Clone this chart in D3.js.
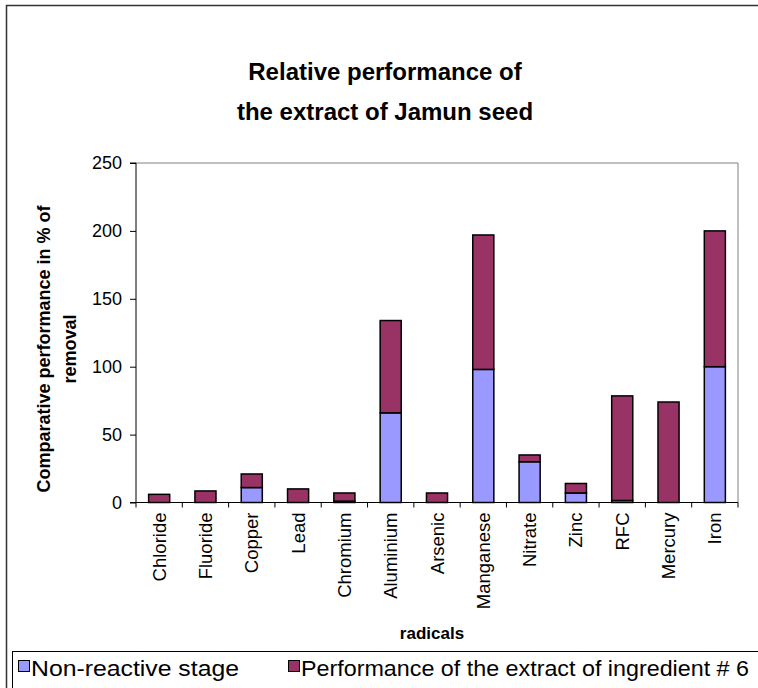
<!DOCTYPE html>
<html>
<head>
<meta charset="utf-8">
<script src="https://cdn.jsdelivr.net/npm/d3@7"></script>
<style>
  html, body { margin: 0; padding: 0; background: #fff; }
  svg { display: block; font-family: "Liberation Sans", Arial, sans-serif; }
</style>
</head>
<body>
<svg id="chart" width="758" height="688"></svg>
<script>
const categories = ["Chloride","Fluoride","Copper","Lead","Chromium","Aluminium","Arsenic","Manganese","Nitrate","Zinc","RFC","Mercury","Iron"];
const nonReactive = [0, 0, 11, 0, 1, 66, 0, 98, 30, 7, 1.5, 0, 100];
const extractPerf = [6, 8.5, 10, 10, 6, 68, 7, 99, 5, 7, 77, 74, 100];
const seriesNames = ["Non-reactive stage", "Performance of the extract of ingredient # 6"];
const seriesColors = ["#9999FF", "#993366"];
const yTicks = [0, 50, 100, 150, 200, 250];
const titleLines = ["Relative performance of", "the extract of Jamun seed"];
const yTitleLines = ["Comparative performance in % of", "removal"];
const xTitle = "radicals";

const svg = d3.select("#chart");

// outer chart border
svg.append("rect").attr("x", 6.5).attr("y", 5.5).attr("width", 760).attr("height", 700)
  .attr("fill", "none").attr("stroke", "#333").attr("stroke-width", 1.5);

const plot = {left: 136, top: 163, right: 738, bottom: 502.5};

const x = d3.scaleBand().domain(categories).range([plot.left, plot.right]).paddingInner(0.545).paddingOuter(0.2725);
const y = d3.scaleLinear().domain([0, 250]).range([plot.bottom, plot.top]);

// plot area border (top/right gray)
svg.append("path")
  .attr("d", `M${plot.left},${plot.top}H${plot.right}V${plot.bottom}`)
  .attr("fill", "none").attr("stroke", "#808080").attr("stroke-width", 1);

// stacked data
const data = categories.map((c, i) => ({cat: c, nr: nonReactive[i], ex: extractPerf[i]}));
const stack = d3.stack().keys(["nr", "ex"])(data);

svg.append("g").selectAll("g").data(stack).join("g")
  .attr("fill", (d, i) => seriesColors[i])
  .selectAll("rect").data(d => d).join("rect")
  .filter(d => d[1] - d[0] > 0)
  .attr("x", d => x(d.data.cat))
  .attr("width", x.bandwidth())
  .attr("y", d => y(d[1]))
  .attr("height", d => y(d[0]) - y(d[1]))
  .attr("stroke", "#000").attr("stroke-width", 1.5);

// y axis
const yAxis = d3.axisLeft(y).tickValues(yTicks).tickSize(6).tickPadding(8);
const gy = svg.append("g").attr("transform", `translate(${plot.left},0)`).call(yAxis);
gy.select(".domain").attr("stroke", "#000").attr("d", `M-6,${plot.top}H0V${plot.bottom}H-6`);
gy.selectAll(".tick line").attr("stroke", "#000");
gy.selectAll(".tick text").attr("font-size", 18).attr("fill", "#000")
  .attr("font-family", "Liberation Sans, Arial, sans-serif");

// x axis: ticks at band boundaries
const gx = svg.append("g").attr("transform", `translate(0,${plot.bottom})`);
gx.append("line").attr("x1", plot.left).attr("x2", plot.right).attr("y1", 0).attr("y2", 0).attr("stroke", "#000");
const step = x.step();
const boundaries = d3.range(categories.length + 1).map(i => plot.left + i * step);
gx.selectAll("line.tk").data(boundaries).join("line").attr("class", "tk")
  .attr("x1", d => d).attr("x2", d => d).attr("y1", 0).attr("y2", 5).attr("stroke", "#000");
gx.selectAll("text.lbl").data(categories).join("text").attr("class", "lbl")
  .attr("transform", d => `translate(${x(d) + x.bandwidth() / 2 + 6.5},10) rotate(-90)`)
  .attr("text-anchor", "end")
  .attr("font-size", 18.5).attr("fill", "#000")
  .text(d => d);

// title
svg.append("g").selectAll("text").data(titleLines).join("text")
  .attr("x", 385).attr("y", (d, i) => 80 + i * 40)
  .attr("text-anchor", "middle").attr("font-size", 24).attr("font-weight", "bold")
  .text(d => d);

// y title
svg.append("g").selectAll("text").data(yTitleLines).join("text")
  .attr("transform", (d, i) => `translate(${50 + i * 26},349) rotate(-90)`)
  .attr("text-anchor", "middle").attr("font-size", 18).attr("font-weight", "bold")
  .text(d => d);

// x title
svg.append("text").attr("x", 432).attr("y", 639).attr("text-anchor", "middle")
  .attr("font-size", 17).attr("font-weight", "bold").text(xTitle);

// legend
svg.append("rect").attr("x", 12.5).attr("y", 651.5).attr("width", 760).attr("height", 60)
  .attr("fill", "#fff").attr("stroke", "#000").attr("stroke-width", 1);
const legX = [18, 288];
const legTextLen = [208, 448];
const lg = svg.append("g").selectAll("g").data(seriesNames).join("g")
  .attr("transform", (d, i) => `translate(${legX[i]},660)`);
lg.append("rect").attr("x", 0.5).attr("y", 0.5).attr("width", 11).attr("height", 11)
  .attr("fill", (d, i) => seriesColors[i]).attr("stroke", "#000").attr("stroke-width", 1);
lg.append("text").attr("x", 13).attr("y", 16).attr("font-size", 22)
  .attr("textLength", (d, i) => legTextLen[i]).attr("lengthAdjust", "spacingAndGlyphs")
  .text(d => d);
</script>
</body>
</html>
